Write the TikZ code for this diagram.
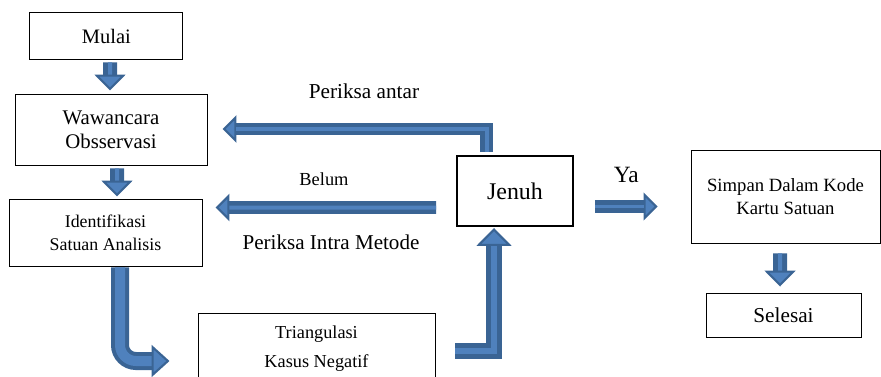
\documentclass[tikz,border=0pt]{standalone}
\usepackage{fontspec}
\setmainfont{Liberation Serif}
\usetikzlibrary{arrows.meta, positioning}
\definecolor{arrowdark}{HTML}{3A6494}
\definecolor{arrowfill}{HTML}{4F81BD}

\begin{document}
\begin{tikzpicture}[
    box/.style={rectangle, draw=black, line width=0.7pt, align=center, inner sep=0pt},
    lbl/.style={anchor=base, inner sep=0pt},
    blk/.style n args={4}{draw=arrowdark, line width=#1,
        -{Triangle[width=#3, length=#4, fill=arrowfill, line width=1.5pt]},
        postaction={draw=arrowfill, line width=#2, -, shorten >=#4}},
    smallarrow/.style={blk={0.35cm}{0.1cm}{0.775cm}{0.4cm}},
    medarrow/.style={blk={0.32cm}{0.1cm}{0.68cm}{0.35cm}},
    bigarrow/.style={blk={0.45cm}{0.25cm}{0.8cm}{0.45cm}}
]
\useasboundingbox (0,0) rectangle (22.025,9.4);
\clip (0,0) rectangle (22.025,9.4);

% Boxes
\node[box, minimum width=3.825cm, minimum height=1.175cm, font=\fontsize{14.6}{17}\selectfont] (mulai) at (2.66,8.49) {Mulai};
\node[box, minimum width=4.8cm, minimum height=1.775cm, font=\fontsize{14.8}{17}\selectfont] (wawancara) at (2.775,6.1625) {Wawancara\\Obsservasi};
\node[box, minimum width=4.825cm, minimum height=1.675cm, font=\fontsize{12.7}{16.4}\selectfont] (identifikasi) at (2.6375,3.5875) {Identifikasi\\Satuan Analisis};
\node[box, minimum width=5.925cm, minimum height=1.8cm, font=\fontsize{13}{20.6}\selectfont] (triangulasi) at (7.9125,0.675) {Triangulasi\\Kasus Negatif};
\node[box, line width=1.4pt, minimum width=2.9cm, minimum height=1.75cm, font=\fontsize{17}{20}\selectfont] (jenuh) at (12.875,4.625) {Jenuh};
\node[box, minimum width=4.725cm, minimum height=2.325cm, font=\fontsize{13.3}{16.4}\selectfont] (simpan) at (19.6375,4.4875) {Simpan Dalam Kode\\Kartu Satuan};
\node[box, minimum width=3.875cm, minimum height=1.1cm, font=\fontsize{15.1}{18}\selectfont] (selesai) at (19.5875,1.525) {Selesai};

% Labels
\node[lbl, font=\fontsize{15.1}{18}\selectfont] (antar) at (9.1,6.95) {Periksa antar};
\node[lbl, font=\fontsize{13.1}{16}\selectfont] (belum) at (8.1,4.775) {Belum};
\node[lbl, font=\fontsize{15}{18}\selectfont] (intra) at (8.275,3.175) {Periksa Intra Metode};
\node[lbl, font=\fontsize{16.6}{20}\selectfont] (ya) at (15.66,4.85) {Ya};

% Block arrows
\draw[smallarrow] ([xshift=0.09cm,yshift=-0.05cm]mulai.south) -- ([xshift=-0.025cm,yshift=0.075cm]wawancara.north);
\draw[smallarrow] ([xshift=0.15cm,yshift=-0.075cm]wawancara.south) -- ([xshift=0.2875cm,yshift=0.05cm]identifikasi.north);
\draw[bigarrow, rounded corners=0.4cm] ([xshift=0.3625cm,yshift=-0.02cm]identifikasi.south) |- ([xshift=-0.7cm,yshift=-0.3cm]triangulasi.west);
\draw[blk={0.38cm}{0.16cm}{0.875cm}{0.45cm}] ([xshift=0.5cm,yshift=-0.05cm]triangulasi.east) -| ([xshift=-0.525cm,yshift=-0.025cm]jenuh.south);
\draw[medarrow] ([xshift=-0.7125cm,yshift=0.075cm]jenuh.north) |- ([xshift=0.375cm,yshift=0.0125cm]wawancara.east);
\draw[medarrow] ([xshift=-0.5cm,yshift=-0.4125cm]jenuh.west) -- ([xshift=0.325cm,yshift=0.625cm]identifikasi.east);
\draw[blk={0.33cm}{0.08cm}{0.7cm}{0.35cm}] ([xshift=0.525cm,yshift=-0.3875cm]jenuh.east) -- ([xshift=-0.825cm,yshift=-0.25cm]simpan.west);
\draw[smallarrow] ([xshift=-0.1375cm,yshift=-0.25cm]simpan.south) -- ([xshift=-0.0875cm,yshift=0.15cm]selesai.north);

\end{tikzpicture}
\end{document}
